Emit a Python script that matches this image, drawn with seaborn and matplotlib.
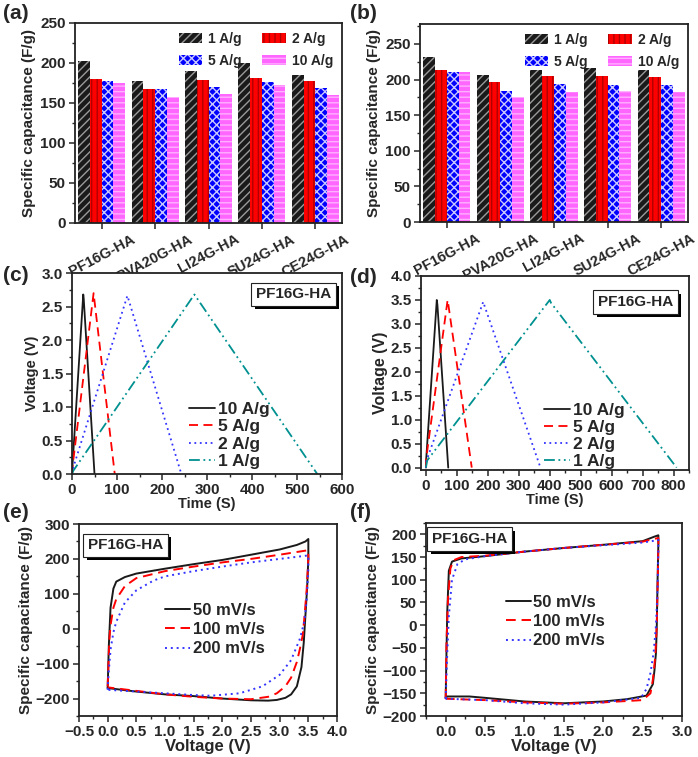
import numpy as np
import pandas as pd
import matplotlib
matplotlib.use("Agg")
import matplotlib.pyplot as plt
import matplotlib.patheffects as pe
from matplotlib.patches import Patch
from matplotlib.ticker import MultipleLocator
import seaborn as sns

# --- data ---
samples = ["PF16G-HA", "PVA20G-HA", "LI24G-HA", "SU24G-HA", "CE24G-HA"]
rates = ["1 A/g", "2 A/g", "5 A/g", "10 A/g"]

cap_a = {
    "1 A/g": [202, 177, 190, 200, 185],
    "2 A/g": [180, 168, 179, 181, 178],
    "5 A/g": [177, 168, 170, 176, 169],
    "10 A/g": [175, 157, 161, 172, 160],
}
cap_b = {
    "1 A/g": [231, 207, 213, 216, 214],
    "2 A/g": [213, 196, 205, 205, 203],
    "5 A/g": [211, 184, 194, 193, 193],
    "10 A/g": [210, 176, 183, 184, 182],
}

gcd_labels = ["10 A/g", "5 A/g", "2 A/g", "1 A/g"]
# (c) time / voltage
gcd_c_t = [[0, 1, 25, 26, 50], [0, 1, 48, 49, 95], [0, 2, 123, 125, 243], [0, 3, 272, 275, 545]]
gcd_c_v = [[0.0, 0.12, 2.68, 2.62, 0.0], [0.0, 0.1, 2.70, 2.64, 0.0], [0.0, 0.08, 2.66, 2.62, 0.0],
           [0.0, 0.05, 2.68, 2.65, 0.0]]
# (d)
gcd_d_t = [[0, 1, 35, 37, 72], [0, 1, 70, 72, 148], [0, 2, 185, 188, 370], [0, 4, 400, 404, 810]]
gcd_d_v = [[0.0, 0.2, 3.50, 3.40, 0.0], [0.0, 0.2, 3.50, 3.42, 0.0], [0.0, 0.15, 3.46, 3.40, 0.0],
           [0.0, 0.15, 3.50, 3.44, 0.0]]

cv_labels = ["50 mV/s", "100 mV/s", "200 mV/s"]
# (e) CV loops: forward branch then reverse branch
cv_e_v = [
    [0.0, 0.02, 0.05, 0.1, 0.15, 0.3, 0.5, 1.0, 1.5, 2.0, 2.5, 3.0, 3.3, 3.45, 3.5,
     3.5, 3.48, 3.45, 3.42, 3.38, 3.3, 3.2, 3.1, 2.95, 2.8, 2.5, 2.0, 1.5, 1.0, 0.5, 0.0],
    [0.0, 0.03, 0.05, 0.1, 0.15, 0.3, 0.5, 1.0, 1.5, 2.0, 2.5, 3.0, 3.5,
     3.5, 3.47, 3.43, 3.4, 3.35, 3.3, 3.2, 3.1, 2.95, 2.8, 2.5, 2.0, 1.5, 1.0, 0.0],
    [0.0, 0.02, 0.05, 0.1, 0.15, 0.3, 0.5, 0.8, 1.0, 1.5, 2.0, 2.5, 3.0, 3.5,
     3.5, 3.47, 3.43, 3.35, 3.2, 3.0, 2.7, 2.3, 1.8, 1.5, 1.0, 0.5, 0.0],
]
cv_e_c = [
    [-170, -50, 60, 115, 135, 148, 158, 172, 185, 197, 212, 227, 240, 250, 257,
     200, 120, 40, -40, -110, -165, -188, -198, -204, -206, -205, -200, -193, -188, -180, -170],
    [-165, -30, 10, 60, 85, 122, 145, 165, 178, 190, 200, 212, 225,
     200, 110, 30, -20, -60, -95, -140, -165, -185, -195, -202, -200, -195, -188, -168],
    [-175, -120, -60, -10, 20, 75, 110, 138, 150, 165, 178, 190, 200, 210,
     170, 80, 20, -30, -90, -132, -165, -185, -192, -190, -185, -180, -175],
]
# (f)
cv_f_v = [
    [0.0, 0.01, 0.02, 0.04, 0.08, 0.2, 0.5, 1.0, 1.5, 2.0, 2.5, 2.65, 2.7,
     2.7, 2.69, 2.68, 2.67, 2.65, 2.63, 2.55, 2.3, 2.0, 1.5, 1.0, 0.5, 0.3, 0.02, 0.0],
    [0.0, 0.01, 0.03, 0.06, 0.1, 0.2, 0.5, 1.0, 1.5, 2.0, 2.5, 2.65, 2.7,
     2.7, 2.69, 2.68, 2.66, 2.63, 2.6, 2.5, 2.0, 1.5, 1.0, 0.5, 0.0],
    [0.0, 0.02, 0.04, 0.08, 0.15, 0.25, 0.5, 1.0, 1.5, 2.0, 2.5, 2.65, 2.7,
     2.7, 2.69, 2.67, 2.64, 2.6, 2.55, 2.48, 2.0, 1.5, 1.0, 0.5, 0.0],
]
cv_f_c = [
    [-160, -60, 30, 120, 140, 147, 152, 162, 170, 177, 185, 195, 198,
     180, 100, 0, -60, -100, -130, -155, -163, -168, -172, -168, -160, -157, -157, -160],
    [-162, -40, 60, 125, 143, 150, 153, 162, 170, 177, 184, 190, 192,
     170, 80, 0, -70, -120, -150, -165, -170, -173, -170, -165, -162],
    [-162, -60, 20, 100, 135, 145, 152, 162, 170, 176, 182, 186, 188,
     170, 80, 0, -60, -105, -140, -160, -170, -175, -172, -165, -162],
]

# --- styling ---
sns.set_style("ticks")
plt.rcParams["font.family"] = ["Liberation Sans", "DejaVu Sans"]
plt.rcParams["font.weight"] = "bold"
plt.rcParams["axes.labelweight"] = "bold"
plt.rcParams["hatch.linewidth"] = 1.0

FS = 11
bar_face = ["#1a1a1a", "#ff0000", "#0000ff", "#ff66ff"]
bar_hatch_col = ["#9a9a9a", "#b00000", "#c8c8ff", "#ffb0ff"]
bar_hatch = ["////", "|||", "xxxx", "---"]
gcd_colors = ["#1a1a1a", "#ff0000", "#3333ff", "#009090"]
gcd_styles = ["-", (0, (5, 3)), (0, (1, 2)), (0, (6, 2, 1, 2, 1, 2))]
cv_colors = ["#1a1a1a", "#ff0000", "#3333ff"]
cv_styles = ["-", (0, (5, 3)), (0, (1, 2))]

W, H = 698, 757
fig = plt.figure(figsize=(W / 100, H / 100), dpi=100)


def add_ax(l, r, t, b):
    return fig.add_axes([l / W, 1 - b / H, (r - l) / W, (b - t) / H])


def style_ax(ax):
    for s in ax.spines.values():
        s.set_linewidth(1.3)
        s.set_color("#222222")
    ax.tick_params(axis="both", which="major", direction="out", length=4, width=1.1,
                   labelsize=FS, top=False, right=False, pad=2.5)
    ax.tick_params(axis="both", which="minor", direction="out", length=2.5, width=1.0,
                   top=False, right=False)
    for lab in ax.get_xticklabels() + ax.get_yticklabels():
        lab.set_fontweight("bold")


def tag_box(ax, x, y):
    t = ax.text(x, y, "PF16G-HA", transform=ax.transAxes, ha="center", va="center",
                fontsize=FS, fontweight="bold",
                bbox=dict(boxstyle="square,pad=0.3", fc="white", ec="#222222", lw=0.8))
    t.get_bbox_patch().set_path_effects([
        pe.SimplePatchShadow(offset=(2.5, -2.5), shadow_rgbFace="black", alpha=1.0),
        pe.Normal()])


def line_legend(ax, anchor, size, spacing):
    ax.legend(loc="lower left", bbox_to_anchor=anchor, frameon=False, handlelength=1.5,
              handletextpad=0.15, labelspacing=spacing, borderpad=0.2,
              prop={"weight": "bold", "size": size})


def bar_panel(ax, data, ymax):
    df = pd.DataFrame([(s, r, data[r][i]) for r in rates for i, s in enumerate(samples)],
                      columns=["sample", "rate", "cap"])
    sns.barplot(data=df, x="sample", y="cap", hue="rate", hue_order=rates, order=samples,
                palette=bar_face, saturation=1, width=0.88, legend=False, ax=ax)
    for k, cont in enumerate(ax.containers):
        for p in cont:
            p.set_hatch(bar_hatch[k])
            p.set_edgecolor(bar_hatch_col[k])
            p.set_linewidth(0)
    ax.set_xlim(-0.5, 4.5)
    ax.set_ylim(0, ymax)
    ax.yaxis.set_major_locator(MultipleLocator(50))
    ax.yaxis.set_minor_locator(MultipleLocator(25))
    ax.set_xlabel("")
    ax.set_ylabel("Specific capacitance (F/g)", fontsize=FS, fontweight="bold", labelpad=3)
    style_ax(ax)
    ax.set_xticks(range(len(samples)))
    ax.set_xticklabels(samples, rotation=28, ha="center", va="top",
                       fontsize=FS - 0.5, fontweight="bold")
    handles = [Patch(facecolor=bar_face[k], edgecolor=bar_hatch_col[k], hatch=bar_hatch[k],
                     linewidth=0, label=rates[k]) for k in range(4)]
    order = [0, 2, 1, 3]
    ax.legend([handles[i] for i in order], [rates[i] for i in order], ncol=2, loc="upper right",
              frameon=False, handlelength=1.7, handleheight=0.7,
              columnspacing=1.5, handletextpad=0.4, borderaxespad=0.25, labelspacing=0.55,
              prop={"weight": "bold", "size": 10})


def line_panel(ax, xs, ys, labels, colors, styles, lw):
    for x, y, lab, c, st in zip(xs, ys, labels, colors, styles):
        sns.lineplot(x=x, y=y, sort=False, estimator=None, color=c, linestyle=st,
                     linewidth=lw, label=lab, ax=ax)


# (a)
ax_a = add_ax(75, 342, 23, 223)
bar_panel(ax_a, cap_a, 250)

# (b)
ax_b = add_ax(420, 688, 24, 222)
bar_panel(ax_b, cap_b, 278)

# (c)
ax_c = add_ax(72, 342, 273, 474)
line_panel(ax_c, gcd_c_t, gcd_c_v, gcd_labels, gcd_colors, gcd_styles, 1.3)
ax_c.set_xlim(0, 600)
ax_c.set_ylim(0, 3.0)
ax_c.xaxis.set_major_locator(MultipleLocator(100))
ax_c.xaxis.set_minor_locator(MultipleLocator(50))
ax_c.yaxis.set_major_locator(MultipleLocator(0.5))
ax_c.yaxis.set_minor_locator(MultipleLocator(0.25))
ax_c.set_xlabel("Time (S)", fontsize=FS - 0.5, fontweight="bold", labelpad=0)
ax_c.set_ylabel("Voltage (V)", fontsize=FS - 0.5, fontweight="bold", labelpad=2)
style_ax(ax_c)
line_legend(ax_c, (0.39, -0.035), FS + 1.5, 0.12)
tag_box(ax_c, 0.82, 0.895)

# (d)
ax_d = add_ax(421, 689, 276, 470)
line_panel(ax_d, gcd_d_t, gcd_d_v, gcd_labels, gcd_colors, gcd_styles, 1.3)
ax_d.set_xlim(-16, 850)
ax_d.set_ylim(-0.05, 4.0)
ax_d.xaxis.set_major_locator(MultipleLocator(100))
ax_d.xaxis.set_minor_locator(MultipleLocator(50))
ax_d.yaxis.set_major_locator(MultipleLocator(0.5))
ax_d.yaxis.set_minor_locator(MultipleLocator(0.25))
ax_d.set_xlabel("Time (S)", fontsize=FS - 0.5, fontweight="bold", labelpad=0)
ax_d.set_ylabel("Voltage (V)", fontsize=FS + 0.5, fontweight="bold", labelpad=2)
style_ax(ax_d)
line_legend(ax_d, (0.415, -0.06), FS + 1.5, 0.12)
tag_box(ax_d, 0.80, 0.866)

# (e)
ax_e = add_ax(79, 337, 524, 716)
line_panel(ax_e, cv_e_v, cv_e_c, cv_labels, cv_colors, cv_styles, 1.4)
ax_e.set_xlim(-0.5, 4.0)
ax_e.set_ylim(-250, 300)
ax_e.xaxis.set_major_locator(MultipleLocator(0.5))
ax_e.xaxis.set_minor_locator(MultipleLocator(0.25))
ax_e.yaxis.set_major_locator(MultipleLocator(100))
ax_e.yaxis.set_minor_locator(MultipleLocator(50))
ax_e.set_xlabel("Voltage (V)", fontsize=FS + 1, fontweight="bold", labelpad=0)
ax_e.set_ylabel("Specific capacitance (F/g)", fontsize=FS, fontweight="bold", labelpad=2)
style_ax(ax_e)
line_legend(ax_e, (0.29, 0.25), FS + 1, 0.25)
tag_box(ax_e, 0.18, 0.89)

# (f)
ax_f = add_ax(426, 682, 523, 716)
line_panel(ax_f, cv_f_v, cv_f_c, cv_labels, cv_colors, cv_styles, 1.4)
ax_f.set_xlim(-0.25, 3.0)
ax_f.set_ylim(-200, 225)
ax_f.xaxis.set_major_locator(MultipleLocator(0.5))
ax_f.xaxis.set_minor_locator(MultipleLocator(0.25))
ax_f.yaxis.set_major_locator(MultipleLocator(50))
ax_f.yaxis.set_minor_locator(MultipleLocator(25))
ax_f.set_xlabel("Voltage (V)", fontsize=FS + 1, fontweight="bold", labelpad=0)
ax_f.set_ylabel("Specific capacitance (F/g)", fontsize=FS, fontweight="bold", labelpad=2)
style_ax(ax_f)
line_legend(ax_f, (0.265, 0.29), FS + 1, 0.25)
tag_box(ax_f, 0.17, 0.917)

# panel letters
for lab, (px, py) in zip(["(a)", "(b)", "(c)", "(d)", "(e)", "(f)"],
                         [(3, 4), (350, 4), (3, 266), (350, 268), (3, 503), (350, 503)]):
    fig.text(px / W, 1 - py / H, lab, ha="left", va="top", fontsize=15, fontweight="bold")

fig.savefig("out.png", dpi=100)
